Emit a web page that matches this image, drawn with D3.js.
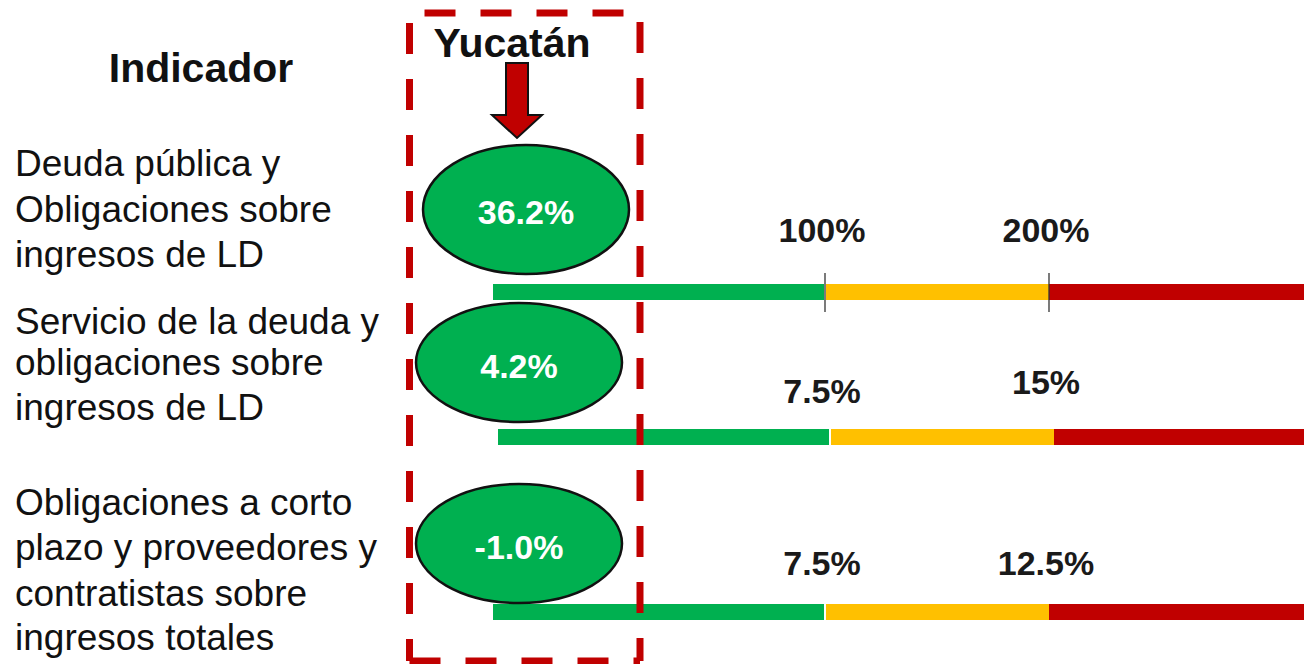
<!DOCTYPE html>
<html>
<head>
<meta charset="utf-8">
<script src="https://cdn.jsdelivr.net/npm/d3@7"></script>
<style>
	body { margin: 0; background: #fff; }
	text { font-family: "Liberation Sans", Arial, sans-serif; }
</style>
</head>
<body>
<div id="chart"></div>
<script>
//Data
var indicators = [
	["Deuda pública y", "Obligaciones sobre", "ingresos de LD"],
	["Servicio de la deuda y", "obligaciones sobre", "ingresos de LD"],
	["Obligaciones a corto", "plazo y proveedores y", "contratistas sobre", "ingresos totales"]
];
var values = [36.2, 4.2, -1.0];
var valueLabels = ["36.2%", "4.2%", "-1.0%"];
var lowLimits = [100, 7.5, 7.5];
var highLimits = [200, 15, 12.5];
var lowLabels = ["100%", "7.5%", "7.5%"];
var highLabels = ["200%", "15%", "12.5%"];
var scaleMax = [300, 22.5, 17.5];
var stateName = "Yucatán";
var headerLabel = "Indicador";

var green = "#00B050", yellow = "#FFC000", red = "#C00000";

///////////////////////////////////////////////////////////////////////////
/////////////////////////////// Set-up SVG ////////////////////////////////
///////////////////////////////////////////////////////////////////////////

var width = 1304, height = 664;

var svg = d3.select("#chart")
	.append("svg")
	.attr("width", width)
	.attr("height", height);

//layout of each row (pixels)
var rows = [
	{ shift: 0, barY: 284, ex: 526, ey: 209.5, ry: 64.5, lowY: 242, highY: 242, textY: 224, lines: [176, 222, 267], ticks: true },
	{ shift: 5, barY: 429, ex: 519, ey: 362.5, ry: 59.5, lowY: 403, highY: 394, textY: 378, lines: [334, 375, 420], ticks: false },
	{ shift: 0, barY: 604, ex: 519, ey: 543.5, ry: 59.5, lowY: 575, highY: 575, textY: 559, lines: [515, 560, 606, 650], ticks: false }
];
var barH = 16;

var color = function(i) {
	return d3.scaleThreshold().domain([lowLimits[i], highLimits[i]]).range([green, yellow, red]);
};

///////////////////////////////////////////////////////////////////////////
//////////////////////////////// Headers //////////////////////////////////
///////////////////////////////////////////////////////////////////////////

svg.append("text")
	.attr("x", 201)
	.attr("y", 82)
	.attr("text-anchor", "middle")
	.style("font-size", "41px")
	.style("font-weight", "bold")
	.style("fill", "#111")
	.text(headerLabel);

svg.append("text")
	.attr("x", 512)
	.attr("y", 57)
	.attr("text-anchor", "middle")
	.style("font-size", "41px")
	.style("font-weight", "bold")
	.style("fill", "#111")
	.text(stateName);

//arrow
svg.append("path")
	.attr("d", "M506,63 L528,63 L528,115 L542,115 L517,138 L492,115 L506,115 Z")
	.style("fill", red)
	.style("stroke", "#111")
	.style("stroke-width", 2);

///////////////////////////////////////////////////////////////////////////
///////////////////////////////// Rows ////////////////////////////////////
///////////////////////////////////////////////////////////////////////////

indicators.forEach(function(lines, i) {
	var r = rows[i];
	var x = d3.scaleLinear()
		.domain([0, lowLimits[i], highLimits[i], scaleMax[i]])
		.range([493, 825, 1049, 1304]);
	var xs = function(v) { return x(v) + r.shift; };

	//indicator label
	svg.append("text")
		.style("font-size", "37px")
		.style("fill", "#111")
		.selectAll("tspan")
		.data(lines)
		.join("tspan")
		.attr("x", 15)
		.attr("y", function(d, j) { return r.lines[j]; })
		.text(function(d) { return d; });

	//traffic light bar
	var segs = [
		{ a: 0, b: lowLimits[i], c: green, pa: 0, pb: -1 },
		{ a: lowLimits[i], b: highLimits[i], c: yellow, pa: 1, pb: 0 },
		{ a: highLimits[i], b: scaleMax[i], c: red, pa: 0, pb: 0 }
	];
	svg.selectAll(null)
		.data(segs)
		.join("rect")
		.attr("x", function(d) { return xs(d.a) + d.pa; })
		.attr("y", r.barY)
		.attr("width", function(d) { return xs(d.b) + d.pb - xs(d.a) - d.pa; })
		.attr("height", barH)
		.style("fill", function(d) { return d.c; });

	if (r.ticks) {
		svg.selectAll(null)
			.data([lowLimits[i], highLimits[i]])
			.join("line")
			.attr("x1", function(d) { return xs(d); })
			.attr("x2", function(d) { return xs(d); })
			.attr("y1", r.barY - 11)
			.attr("y2", r.barY + barH + 12)
			.style("stroke", "#333")
			.style("stroke-width", 1.3);
	}

	//threshold labels
	svg.selectAll(null)
		.data([{ v: lowLimits[i], t: lowLabels[i], y: r.lowY }, { v: highLimits[i], t: highLabels[i], y: r.highY }])
		.join("text")
		.attr("x", function(d) { return x(d.v) - 3; })
		.attr("y", function(d) { return d.y; })
		.attr("text-anchor", "middle")
		.style("font-size", "34px")
		.style("font-weight", "bold")
		.style("fill", "#1a1a1a")
		.text(function(d) { return d.t; });

	//value bubble
	svg.append("ellipse")
		.attr("cx", r.ex)
		.attr("cy", r.ey)
		.attr("rx", 103)
		.attr("ry", r.ry)
		.style("fill", color(i)(values[i]))
		.style("stroke", "#111")
		.style("stroke-width", 2.5);

	svg.append("text")
		.attr("x", r.ex)
		.attr("y", r.textY)
		.attr("text-anchor", "middle")
		.style("font-size", "34px")
		.style("font-weight", "bold")
		.style("fill", "#fff")
		.text(valueLabels[i]);
});

///////////////////////////////////////////////////////////////////////////
///////////////////////////// Dashed frame ////////////////////////////////
///////////////////////////////////////////////////////////////////////////

var frame = { x0: 409.5, x1: 640, y0: 13, y1: 661 };
var edges = [
	{ x1: frame.x0, y1: frame.y0, x2: frame.x1, y2: frame.y0, off: 41 },
	{ x1: frame.x1, y1: frame.y0, x2: frame.x1, y2: frame.y1, off: 47 },
	{ x1: frame.x0, y1: frame.y0, x2: frame.x0, y2: frame.y1, off: 46 },
	{ x1: frame.x0, y1: frame.y1, x2: frame.x1, y2: frame.y1, off: 0 }
];
svg.selectAll(".frame")
	.data(edges)
	.join("line")
	.attr("class", "frame")
	.attr("x1", function(d) { return d.x1; })
	.attr("y1", function(d) { return d.y1; })
	.attr("x2", function(d) { return d.x2; })
	.attr("y2", function(d) { return d.y2; })
	.style("stroke", red)
	.style("stroke-width", 7)
	.style("stroke-dasharray", "31,25")
	.style("stroke-dashoffset", function(d) { return d.off; });
</script>
</body>
</html>
